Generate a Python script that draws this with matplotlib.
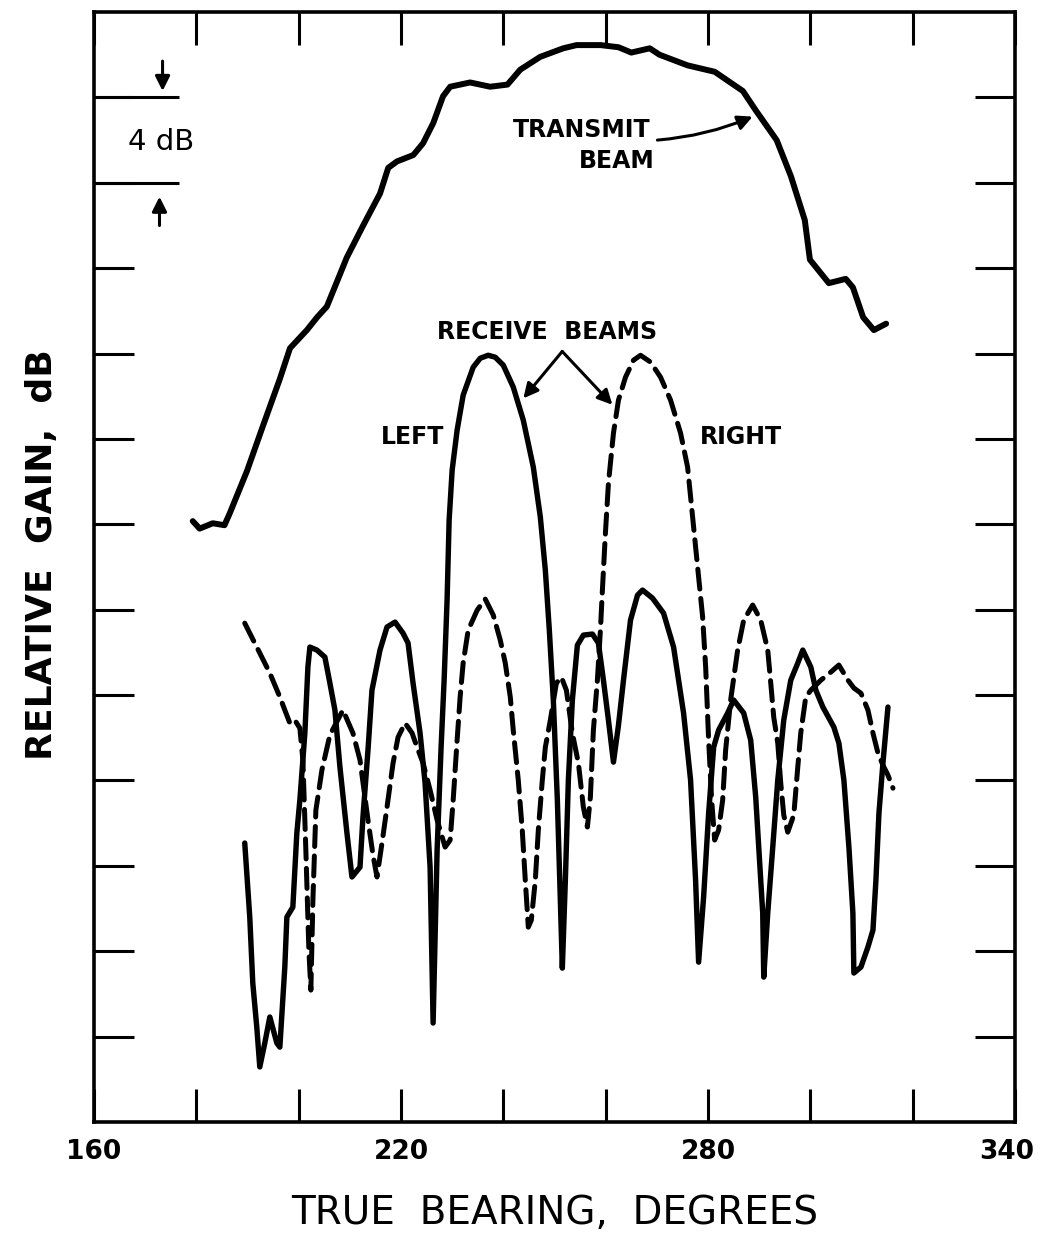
import numpy as np
import matplotlib
matplotlib.use("Agg")
import matplotlib.pyplot as plt
import matplotlib.transforms as mtransforms

# transmit beam (bearing deg, relative gain dB)
tx_deg = [179.3, 180.65, 183.2, 185.5, 186.5, 189.9, 193.0, 196.3, 198.3, 201.6, 203.6, 205.5,
          209.4, 212.6, 215.9, 217.5, 219.2, 222.4, 224.3, 226.3, 228.2, 229.6, 233.5, 237.4,
          240.8, 243.3, 247.2, 251.7, 254.3, 259.0, 262.5, 265.0, 268.6, 270.5, 276.0, 281.3,
          286.8, 289.3, 293.4, 296.2, 298.9, 299.9, 303.6, 306.9, 308.3, 310.3, 312.4, 314.8]
tx_db = [28.15, 27.8, 28.05, 27.96, 28.5, 30.5, 32.6, 34.8, 36.25, 37.1, 37.7, 38.2,
         40.5, 42.0, 43.5, 44.7, 45.0, 45.3, 45.85, 46.8, 48.05, 48.5, 48.7, 48.5,
         48.6, 49.3, 49.9, 50.3, 50.45, 50.45, 50.35, 50.1, 50.3, 50.0, 49.5, 49.2,
         48.3, 47.4, 46.0, 44.3, 42.25, 40.4, 39.3, 39.5, 39.1, 37.7, 37.1, 37.4]

# left receive beam (solid)
left_deg = [189.46, 190.44, 191.03, 191.81, 192.40, 193.38, 194.36, 195.73, 196.32, 197.29,
            197.69, 198.86, 199.64, 200.23, 201.21, 201.80, 202.19, 203.56, 205.12, 206.10,
            207.08, 208.06, 209.43, 210.41, 211.98, 212.56, 213.54, 214.32, 215.89, 217.26,
            218.83, 220.39, 221.37, 222.35, 223.72, 224.70, 225.68, 226.27, 227.05, 227.83,
            228.42, 229.0, 229.4, 229.99, 230.96, 232.14, 234.1, 235.47, 237.03, 238.4,
            239.97, 241.93, 243.89, 245.85, 247.22, 248.2, 248.98, 249.76, 250.55, 251.13,
            251.52, 252.11, 252.7, 253.48, 254.46, 255.63, 257.4, 258.57, 259.55, 260.53,
            261.51, 262.49, 263.47, 264.84, 266.21, 267.19, 269.15, 271.30, 273.26, 275.21,
            276.58, 277.56, 278.15, 279.13, 280.11, 281.09, 282.06, 283.83, 285.0, 286.96,
            288.33, 289.31, 289.9, 290.68, 290.88, 291.66, 292.64, 293.62, 294.79, 296.16,
            297.53, 298.51, 300.08, 301.06, 302.43, 304.58, 305.56, 306.54, 307.52, 308.3,
            308.49, 309.87, 311.24, 312.22, 312.8, 313.39, 314.17, 315.15]
left_db = [13.07, 9.60, 6.51, 4.45, 2.58, 3.70, 4.92, 3.70, 3.51, 7.26,
           9.60, 10.07, 13.54, 15.08, 18.22, 21.31, 22.25, 22.11, 21.78, 20.56,
           19.30, 16.63, 13.54, 11.48, 11.94, 14.29, 17.42, 20.23, 22.11, 23.19,
           23.42, 22.90, 22.44, 20.56, 18.22, 15.88, 11.94, 4.64, 12.74, 17.56,
           20.70, 24.45, 28.2, 30.54, 32.41, 34.05, 35.36, 35.78, 35.92, 35.83,
           35.46, 34.43, 32.88, 30.68, 28.34, 25.85, 23.04, 19.77, 15.08, 10.40,
           7.21, 11.33, 16.02, 19.77, 22.34, 22.81, 22.86, 22.44, 20.70, 18.83,
           16.86, 18.59, 20.70, 23.51, 24.68, 24.92, 24.54, 23.84, 22.25, 19.16,
           16.02, 11.33, 7.49, 10.54, 14.47, 17.56, 18.36, 19.16, 19.77, 19.16,
           17.89, 15.22, 12.88, 9.79, 6.79, 9.79, 12.88, 16.02, 18.83, 20.70,
           21.50, 22.11, 21.31, 20.23, 19.44, 18.50, 17.75, 16.02, 12.88, 9.79,
           6.98, 7.26, 8.20, 8.99, 11.33, 14.47, 16.81, 19.44]

# right receive beam (dashed)
right_deg = [189.46, 190.44, 192.40, 194.36, 196.32, 197.29, 198.27, 199.25, 200.23, 200.82,
             201.4, 201.99, 202.38, 202.78, 203.36, 204.54, 206.1, 208.65, 210.6, 211.98,
             213.54, 214.52, 215.3, 216.28, 217.26, 218.44, 219.42, 220.79, 222.16, 223.13,
             224.31, 225.68, 227.05, 228.62, 229.6, 230.19, 230.96, 231.55, 232.14, 233.12,
             234.88, 236.45, 238.02, 239.39, 240.37, 241.35, 241.93, 242.91, 243.69, 244.28,
             244.87, 245.46, 246.24, 246.83, 247.61, 248.2, 249.18, 250.35, 251.33, 252.31,
             253.48, 254.66, 255.63, 256.42, 257.0, 257.59, 258.37, 258.96, 259.35, 259.94,
             260.53, 261.51, 262.49, 263.86, 265.43, 266.8, 268.76, 270.72, 272.67, 274.63,
             276.0, 276.98, 277.96, 278.94, 279.53, 280.11, 280.7, 281.29, 282.06, 282.85,
             283.43, 284.41, 285.78, 286.96, 288.72, 290.29, 291.66, 292.25, 292.83, 293.62,
             294.2, 294.79, 295.57, 296.75, 297.53, 298.11, 299.09, 300.08, 302.04, 304.0,
             305.56, 307.33, 308.5, 309.87, 311.24, 312.22, 313.2, 314.17, 315.15, 316.13]
right_db = [23.37, 22.90, 21.97, 21.03, 19.91, 19.30, 18.69, 18.83, 18.45, 16.96,
            12.74, 8.06, 6.18, 10.40, 14.61, 16.49, 18.13, 19.30, 18.22, 16.96,
            14.15, 12.51, 11.48, 13.07, 14.75, 16.81, 18.03, 18.69, 18.22, 17.56,
            16.81, 15.55, 14.15, 12.88, 13.21, 15.08, 17.89, 19.91, 21.50, 23.04,
            23.98, 24.50, 23.75, 22.58, 21.50, 19.91, 18.36, 16.02, 13.68, 11.33,
            9.13, 9.46, 11.33, 13.68, 16.02, 17.56, 18.83, 20.56, 20.84, 20.23,
            18.22, 16.81, 14.75, 13.82, 15.22, 18.36, 20.70, 23.04, 24.92, 27.59,
            29.93, 32.27, 33.82, 34.89, 35.69, 35.92, 35.60, 34.89, 33.82, 32.27,
            30.68, 28.34, 25.99, 23.65, 21.31, 17.89, 15.08, 13.21, 13.68, 15.08,
            17.42, 19.77, 22.11, 23.51, 24.22, 23.51, 22.11, 20.56, 18.97, 17.75,
            15.88, 14.38, 13.58, 14.38, 16.63, 18.22, 19.91, 20.23, 20.70, 21.08,
            21.41, 20.70, 20.33, 20.09, 19.30, 18.22, 17.28, 16.72, 16.25, 15.64]

x_ticks = list(range(160, 341, 20))
x_labels = ['160', '', '', '220', '', '', '280', '', '', '340']
y_ticks = list(range(4, 49, 4))

fig = plt.figure(figsize=(10.42, 12.39), dpi=100)
ax = fig.add_axes([0.0902, 0.0944, 0.884, 0.8959])

ax.plot(tx_deg, tx_db, color='k', lw=4.3, solid_joinstyle='round', solid_capstyle='round')
ax.plot(left_deg, left_db, color='k', lw=3.9, solid_joinstyle='round', solid_capstyle='round')
ax.plot(right_deg, right_db, color='k', lw=3.6, linestyle=(0, (4, 1.9)), dash_capstyle='round')

ax.set_xlim(160, 340)
ax.set_ylim(0, 52)
ax.set_xticks(x_ticks)
ax.set_xticklabels(x_labels, fontweight='bold', fontsize=19)
ax.set_yticks(y_ticks)
ax.set_yticklabels([])
ax.tick_params(axis='x', direction='in', length=24, width=2.2, top=True, pad=12)
ax.tick_params(axis='y', direction='in', length=29, width=2.2, right=True)
for s in ax.spines.values():
    s.set_linewidth(2.6)

# keep the last label inside the picture
last = ax.get_xticklabels()[-1]
last.set_transform(last.get_transform() + mtransforms.ScaledTranslation(-6 / 72, 0, fig.dpi_scale_trans))

ax.set_xlabel('TRUE  BEARING,  DEGREES', fontsize=28, va='center')
ax.xaxis.set_label_coords(0.5, -0.082)
ax.set_ylabel('RELATIVE  GAIN,  dB', fontsize=26, fontweight='bold', va='center')
ax.yaxis.set_label_coords(-0.0565, 0.511)

# 4 dB scale marker
for lev in (44, 48):
    ax.plot([160, 176.7], [lev, lev], color='k', lw=2.2, solid_capstyle='butt', clip_on=False)
ax.text(173.2, 45.9, '4 dB', fontsize=21, ha='center', va='center')
ax.annotate('', xy=(173.4, 48.3), xytext=(173.4, 49.7),
            arrowprops=dict(arrowstyle='-|>', color='k', lw=2.2, mutation_scale=22,
                            shrinkA=0, shrinkB=0))
ax.annotate('', xy=(172.8, 43.35), xytext=(172.8, 42.0),
            arrowprops=dict(arrowstyle='-|>', color='k', lw=2.2, mutation_scale=22,
                            shrinkA=0, shrinkB=0))

# labels on the curves
bold = dict(fontsize=17, fontweight='bold', ha='center', va='center')
ax.text(255.3, 46.45, 'TRANSMIT', **bold)
ax.text(262.1, 45.0, 'BEAM', **bold)
ax.annotate('', xy=(288.7, 47.1), xytext=(270.1, 46.0),
            arrowprops=dict(arrowstyle='-|>', color='k', lw=2.2, mutation_scale=22,
                            shrinkA=0, shrinkB=0, connectionstyle='arc3,rad=0.08'))

ax.text(248.6, 37.0, 'RECEIVE  BEAMS', **bold)
for tip in [(243.9, 33.9), (261.3, 33.6)]:
    ax.annotate('', xy=tip, xytext=(251.5, 36.1),
                arrowprops=dict(arrowstyle='-|>', color='k', lw=2.2, mutation_scale=22,
                                shrinkA=0, shrinkB=0))
ax.text(222.2, 32.1, 'LEFT', **bold)
ax.text(286.4, 32.1, 'RIGHT', **bold)

fig.savefig('out.png', dpi=100)
